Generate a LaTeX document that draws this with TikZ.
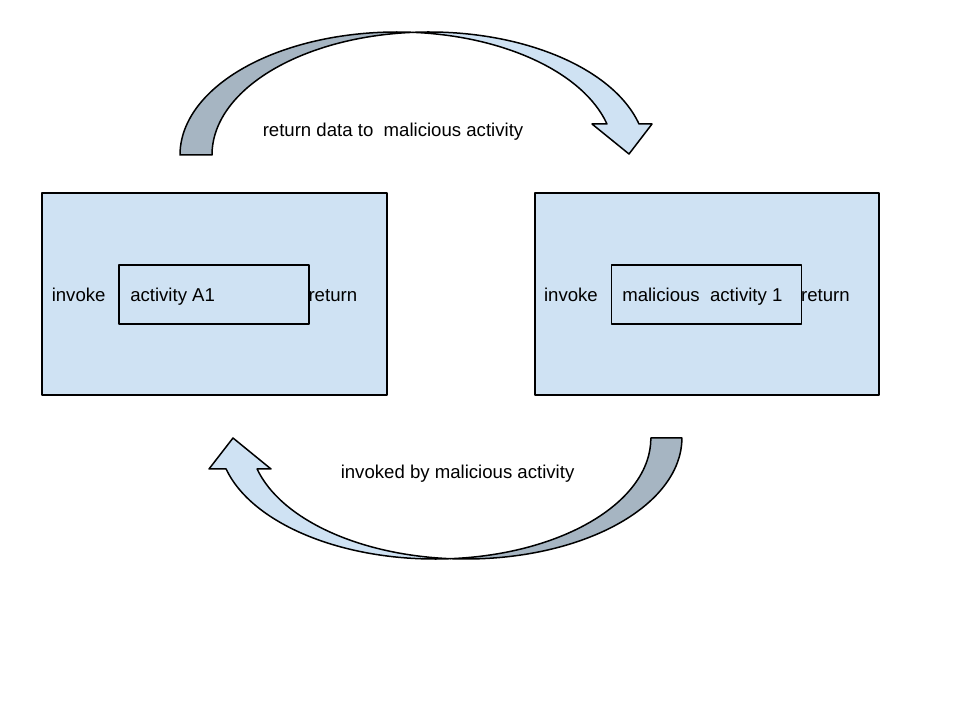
\documentclass[tikz,border=0pt]{standalone}
\usepackage{fontspec}
\setmainfont{Liberation Sans}
\definecolor{boxfill}{HTML}{CFE2F3}
\definecolor{backfill}{HTML}{A6B5C2}
\begin{document}
\begin{tikzpicture}[x=1pt,y=1pt,line width=1.5pt,line join=round,
  box/.style={draw=black,fill=boxfill,rectangle,inner sep=0pt,outer sep=0pt,anchor=south west},
  lbl/.style={anchor=base west,inner sep=0pt,font=\fontsize{18.6}{22}\selectfont},
  band/.style={draw=black,fill=boxfill},
  backband/.style={draw=black,fill=backfill}]
\useasboundingbox (0,0) rectangle (960,720);
\fill[white] (0,0) rectangle (960,720);

% left block
\node[box,minimum width=345pt,minimum height=202pt] (outerL) at (42,325) {};
\node[box,minimum width=190pt,minimum height=59pt] (innerL) at (119,396) {};
\node[lbl] (invL) at (51,418) {invoke};
\node[lbl] (actL) at (129.5,418) {activity A1};
\node[lbl] (retL) at (307.8,418) {return};

% right block
\node[box,minimum width=344pt,minimum height=202pt] (outerR) at (535,325) {};
\node[box,minimum width=190pt,minimum height=59pt] (innerR) at (611.5,396) {};
\node[lbl] (invR) at (543.3,418) {invoke};
\node[lbl] (actR) at (621.5,418) {malicious\ \ activity 1};
\node[lbl] (retR) at (800.3,418) {return};

% top curved arrow (left to right)
\path[backband] (180,565) arc[start angle=180,end angle=85.77,x radius=217,y radius=123]
  arc[start angle=94.23,end angle=180,x radius=217,y radius=123] -- cycle;
\path[band] (413,687.66) arc[start angle=94.23,end angle=14.60,x radius=217,y radius=123]
  -- (652,596) -- (629,566) -- (592,596) -- (607,596)
  arc[start angle=14.60,end angle=85.77,x radius=217,y radius=123] -- cycle;
\node[lbl] (topLbl) at (262,583.5) {return data to\ \ malicious activity};

% bottom curved arrow (right to left)
\path[backband] (681.9,282) arc[start angle=360,end angle=265.88,x radius=216,y radius=121]
  arc[start angle=274.12,end angle=360,x radius=216,y radius=121] -- cycle;
\path[band] (450.4,161.31) arc[start angle=274.12,end angle=194.84,x radius=216,y radius=121]
  -- (209,251) -- (233,282) -- (271,251) -- (257.1,251)
  arc[start angle=194.84,end angle=265.88,x radius=216,y radius=121] -- cycle;
\node[lbl] (botLbl) at (340,241) {invoked by malicious activity};
\end{tikzpicture}
\end{document}
